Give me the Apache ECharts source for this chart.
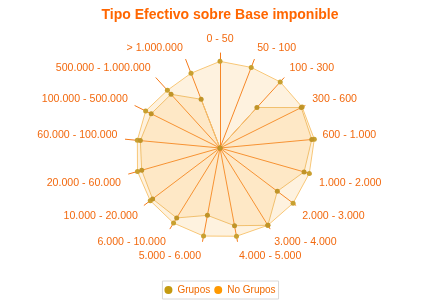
<!DOCTYPE html>
<html>
<head>
<meta charset="utf-8">
<script src="https://cdn.jsdelivr.net/npm/echarts@6/dist/echarts.min.js"></script>
<style>html,body{margin:0;padding:0;background:#fff}#c{width:440px;height:300px}</style>
</head>
<body>
<div id="c"></div>
<script>
// Categories in clockwise order starting at the top
const categories = ['0 - 50','50 - 100','100 - 300','300 - 600','600 - 1.000','1.000 - 2.000','2.000 - 3.000','3.000 - 4.000','4.000 - 5.000','5.000 - 6.000','6.000 - 10.000','10.000 - 20.000','20.000 - 60.000','60.000 - 100.000','100.000 - 500.000','500.000 - 1.000.000','> 1.000.000'];
const grupos   = [0, 0, 57.7, 95.5, 97, 92, 75.6, 95.7, 83.2, 72.1, 86.6, 88.9, 85.7, 84.2, 80.9, 76.5, 55];
const noGrupos = [91.2, 91, 94.1, 96.6, 99.7, 97.7, 96.4, 95.7, 94.5, 94.3, 92.9, 92, 90.3, 87.4, 87.4, 82.2, 84.4];
const maxValue = 100;

// ECharts radar runs counter-clockwise; reorder so the picture runs clockwise
function reorder(a){ return [a[0]].concat(a.slice(1).reverse()); }

const chart = echarts.init(document.getElementById('c'));
const orange = '#f26a10';
const nameFont = {color:orange,fontSize:10.6,fontFamily:'Liberation Sans, Arial'};
chart.setOption({
  animation:false,
  title:{text:'Tipo Efectivo sobre Base imponible',left:'center',top:3,
    textStyle:{color:'#ff6600',fontSize:14,fontWeight:'bold',fontFamily:'Liberation Sans, Arial'}},
  legend:{bottom:1,left:'center',icon:'circle',itemWidth:8,itemHeight:8,itemGap:4,
    borderColor:'#d8d8d8',borderWidth:1,padding:[4,3,4,2],
    textStyle:{color:'#f06a00',fontSize:10,fontFamily:'Liberation Sans, Arial'},
    data:[{name:'Grupos',itemStyle:{color:'#c49a10'}},{name:'No Grupos',itemStyle:{color:'#ff9900'}}]},
  radar:{
    center:['50%',148],radius:95,startAngle:90,shape:'polygon',
    indicator:reorder(categories).map(n=>({name:n,max:maxValue,min:0})),
    nameGap:8,
    axisName:Object.assign({}, nameFont, {
      formatter:function(name){
        const k = categories.indexOf(name);
        if (k === 0) return '{t|' + name + '}';
        if (k >= 5 && k <= 12) return '{d|' + name + '}';
        return '{u|' + name + '}';
      },
      rich:{
        t:Object.assign({}, nameFont),
        u:Object.assign({padding:[0,0,7,0]}, nameFont),
        d:Object.assign({padding:[13,0,0,0]}, nameFont)
      }
    }),
    axisLine:{lineStyle:{color:'#f57a1a',width:1}},
    splitLine:{show:false},splitArea:{show:false},axisTick:{show:false},axisLabel:{show:false}
  },
  series:[{
    type:'radar',symbol:'circle',symbolSize:5,
    data:[
      {name:'No Grupos',value:reorder(noGrupos),
       itemStyle:{color:'#c8a030'},lineStyle:{color:'#f8c87a',width:1},areaStyle:{color:'#f8c060',opacity:0.2}},
      {name:'Grupos',value:reorder(grupos),
       itemStyle:{color:'#c09428'},lineStyle:{color:'#f0c070',width:1},areaStyle:{color:'#f8c060',opacity:0.2}}
    ]
  }]
});
</script>
</body>
</html>
